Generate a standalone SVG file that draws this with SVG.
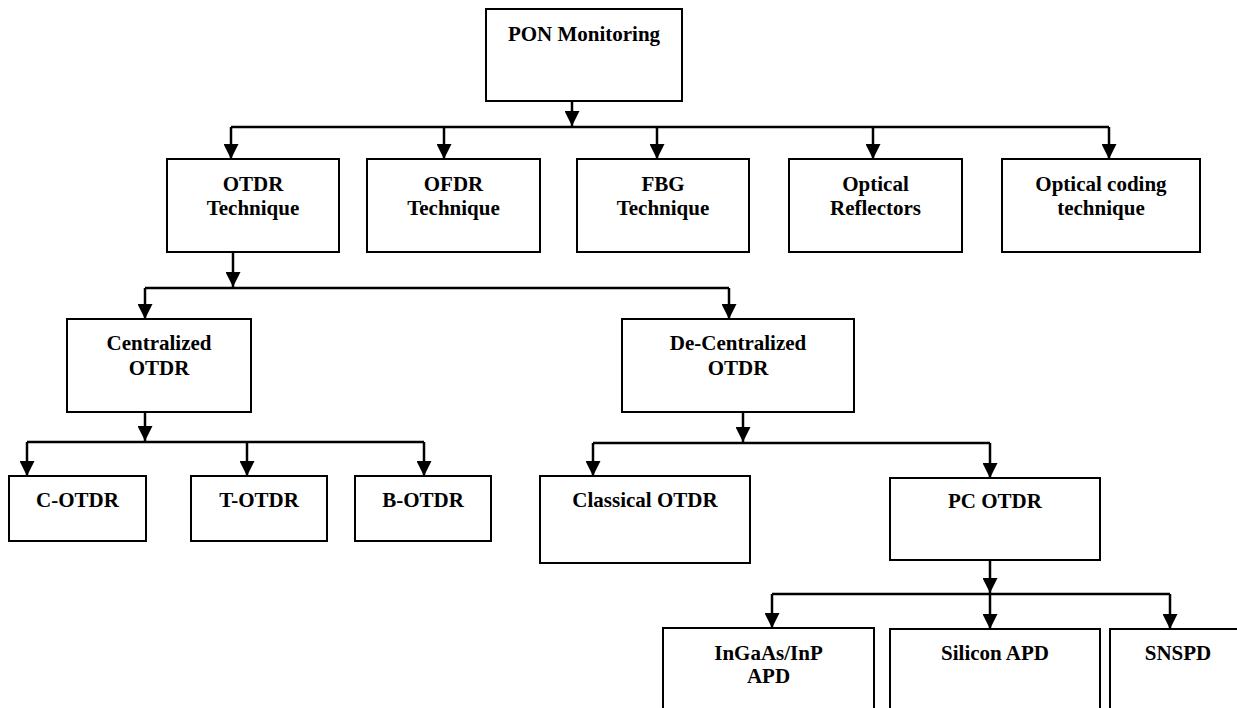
<svg xmlns="http://www.w3.org/2000/svg" width="1237" height="708" viewBox="0 0 1237 708">
<defs>
<style>
.box{fill:#fff;stroke:#000;stroke-width:2}
.t{font-family:"Liberation Serif","Times New Roman",serif;font-weight:bold;font-size:21px;fill:#000;text-anchor:middle}
.c{fill:none;stroke:#000;stroke-width:2.5}
.a{fill:none;stroke:#000;stroke-width:2.5;marker-end:url(#ah)}
</style>
<marker id="ah" markerUnits="userSpaceOnUse" markerWidth="15" markerHeight="15" refX="15" refY="7.5" orient="auto">
<path d="M0,0 L15,7.5 L0,15 z" fill="#000"/>
</marker>
</defs>
<rect width="1237" height="708" fill="#fff"/>
<g id="connectors">
<line class="a" x1="572" y1="101" x2="572" y2="126"/>
<line class="c" x1="231" y1="127" x2="1109" y2="127"/>
<line class="a" x1="231" y1="127" x2="231" y2="159"/>
<line class="a" x1="444" y1="127" x2="444" y2="159"/>
<line class="a" x1="657" y1="127" x2="657" y2="159"/>
<line class="a" x1="873" y1="127" x2="873" y2="159"/>
<line class="a" x1="1109" y1="127" x2="1109" y2="159"/>
<line class="a" x1="233" y1="252" x2="233" y2="287"/>
<line class="c" x1="145" y1="288" x2="729" y2="288"/>
<line class="a" x1="145" y1="288" x2="145" y2="319"/>
<line class="a" x1="729" y1="288" x2="729" y2="319"/>
<line class="a" x1="145" y1="412" x2="145" y2="441"/>
<line class="c" x1="27" y1="442" x2="424" y2="442"/>
<line class="a" x1="27" y1="442" x2="27" y2="476"/>
<line class="a" x1="247" y1="442" x2="247" y2="476"/>
<line class="a" x1="424" y1="442" x2="424" y2="476"/>
<line class="a" x1="743" y1="412" x2="743" y2="442"/>
<line class="c" x1="593" y1="443" x2="990" y2="443"/>
<line class="a" x1="593" y1="443" x2="593" y2="476"/>
<line class="a" x1="990" y1="443" x2="990" y2="478"/>
<line class="a" x1="990" y1="560" x2="990" y2="593"/>
<line class="c" x1="772" y1="594" x2="1170" y2="594"/>
<line class="a" x1="772" y1="594" x2="772" y2="628"/>
<line class="a" x1="990" y1="594" x2="990" y2="629"/>
<line class="a" x1="1170" y1="594" x2="1170" y2="629"/>
</g>
<g id="pon"><rect class="box" x="486" y="9" width="196" height="92"/><text class="t" x="584" y="41">PON Monitoring</text></g>
<g id="otdr"><rect class="box" x="167" y="159" width="172" height="93"/><text class="t" x="253" y="191">OTDR</text><text class="t" x="253" y="215">Technique</text></g>
<g id="ofdr"><rect class="box" x="367" y="159" width="173" height="93"/><text class="t" x="453.5" y="191">OFDR</text><text class="t" x="453.5" y="215">Technique</text></g>
<g id="fbg"><rect class="box" x="577" y="159" width="172" height="93"/><text class="t" x="663" y="191">FBG</text><text class="t" x="663" y="215">Technique</text></g>
<g id="reflectors"><rect class="box" x="789" y="159" width="173" height="93"/><text class="t" x="875.5" y="191">Optical</text><text class="t" x="875.5" y="215">Reflectors</text></g>
<g id="coding"><rect class="box" x="1002" y="159" width="198" height="93"/><text class="t" x="1101" y="191">Optical coding</text><text class="t" x="1101" y="215">technique</text></g>
<g id="centralized"><rect class="box" x="67" y="319" width="184" height="93"/><text class="t" x="159" y="350">Centralized</text><text class="t" x="159" y="375">OTDR</text></g>
<g id="decentralized"><rect class="box" x="622" y="319" width="232" height="93"/><text class="t" x="738" y="350">De-Centralized</text><text class="t" x="738" y="375">OTDR</text></g>
<g id="cotdr"><rect class="box" x="9" y="476" width="137" height="65"/><text class="t" x="77.5" y="507">C-OTDR</text></g>
<g id="totdr"><rect class="box" x="191" y="476" width="136" height="65"/><text class="t" x="259" y="507">T-OTDR</text></g>
<g id="botdr"><rect class="box" x="355" y="476" width="136" height="65"/><text class="t" x="423" y="507">B-OTDR</text></g>
<g id="classical"><rect class="box" x="540" y="476" width="210" height="87"/><text class="t" x="645" y="507">Classical OTDR</text></g>
<g id="pcotdr"><rect class="box" x="890" y="478" width="210" height="82"/><text class="t" x="995" y="508">PC OTDR</text></g>
<g id="ingaas"><rect class="box" x="663" y="628" width="211" height="90"/><text class="t" x="768.5" y="660">InGaAs/InP</text><text class="t" x="768.5" y="683">APD</text></g>
<g id="silicon"><rect class="box" x="890" y="629" width="210" height="90"/><text class="t" x="995" y="660">Silicon APD</text></g>
<g id="snspd"><rect class="box" x="1110" y="629" width="140" height="90"/><text class="t" x="1178" y="660">SNSPD</text></g>
</svg>
